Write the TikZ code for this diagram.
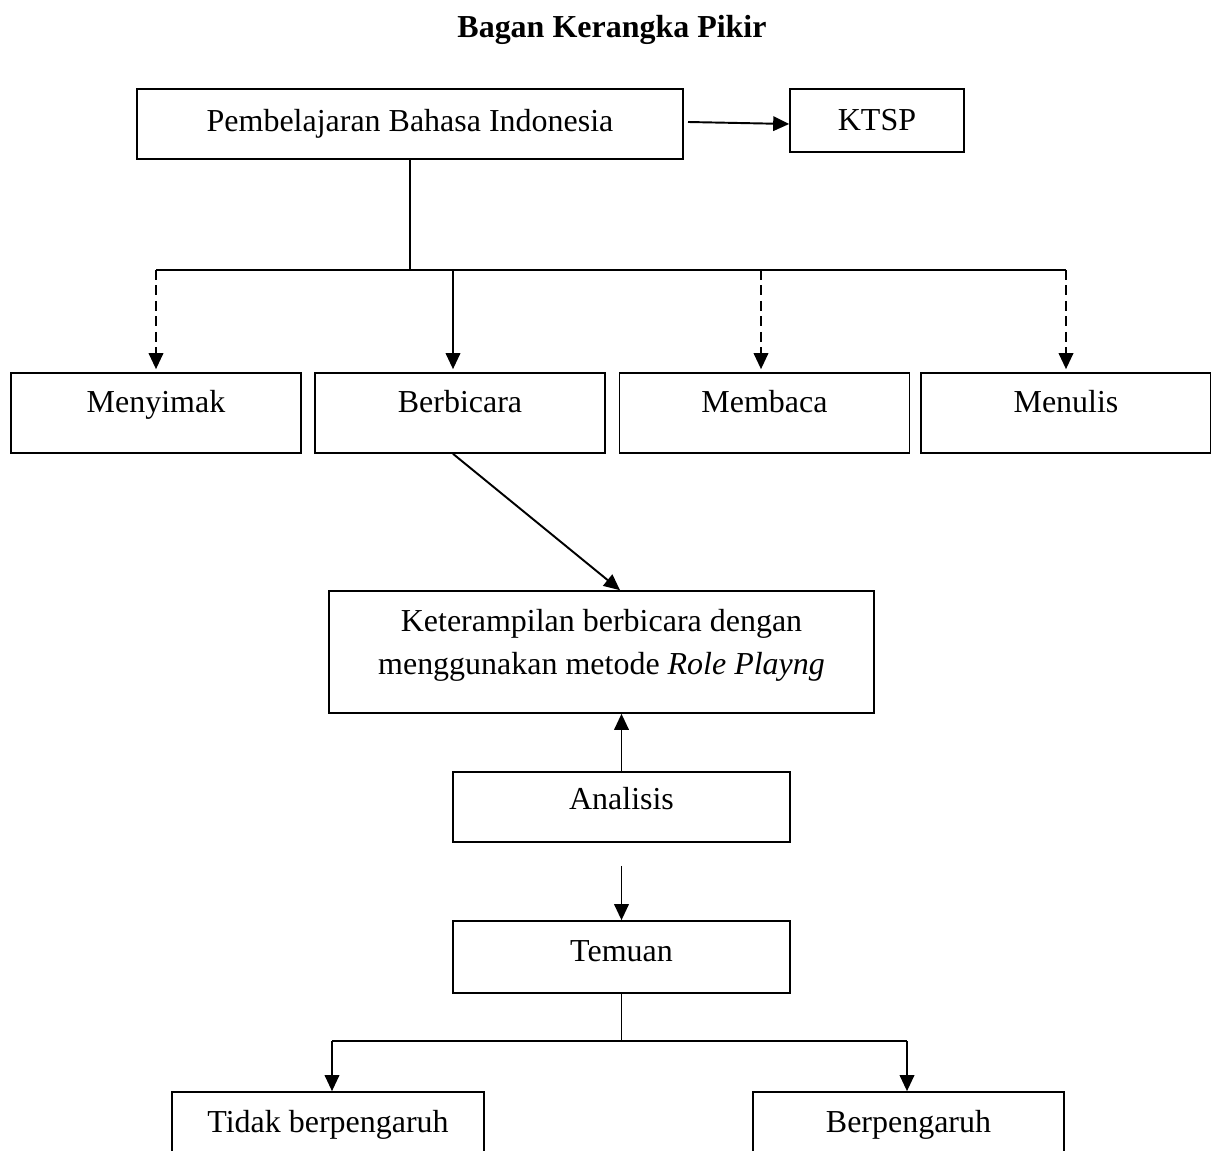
\documentclass[tikz,border=0pt]{standalone}
\usepackage{fontspec}
\setmainfont{Liberation Serif}
\usetikzlibrary{arrows.meta}
\tikzset{
  kotak/.style={draw, line width=0.95pt, inner xsep=0pt, inner ysep=0pt},
  panah/.style={line width=1.1pt, -{Triangle[length=0.32cm,width=0.29cm]}},
  putus/.style={panah, dash pattern=on 0.2cm off 0.11cm},
  tipis/.style={line width=0.6pt},
  tebal/.style={line width=1.2pt}
}
\begin{document}
\begin{tikzpicture}[x=0.02cm, y=-0.02cm, font=\fontsize{18.2pt}{24.5pt}\selectfont]
\useasboundingbox (0,0) rectangle (1211,1151);
\clip (0,0) rectangle (1211,1151);
% judul
\node[anchor=base, font=\fontsize{18.2pt}{24.5pt}\selectfont\bfseries] (judul) at (612,38) {Bagan Kerangka Pikir};
% baris atas
\node[kotak, minimum width=10.92cm, text height=0.86cm, text depth=0.54cm] (pbi) at (410,124) {Pembelajaran Bahasa Indonesia};
\node[kotak, minimum width=3.48cm, text height=0.84cm, text depth=0.42cm] (ktsp) at (877,120.5) {KTSP};
\coordinate (awal) at (688,122);
\draw[panah] (awal) -- ([yshift=-0.07cm]ktsp.west);
% empat keterampilan
\node[kotak, minimum width=5.8cm, text height=0.8cm, text depth=0.8cm] (menyimak) at (156,413) {Menyimak};
\node[kotak, minimum width=5.8cm, text height=0.8cm, text depth=0.8cm] (berbicara) at (460,413) {Berbicara};
\node[kotak, minimum width=5.8cm, text height=0.8cm, text depth=0.8cm] (membaca) at (764.5,413) {Membaca};
\node[kotak, minimum width=5.8cm, text height=0.8cm, text depth=0.8cm] (menulis) at (1066,413) {Menulis};
\coordinate (cabang) at (410,270);
\draw[tipis] (pbi.south) -- (cabang);
\draw[tebal] (menyimak.north |- cabang) -- (menulis.north |- cabang);
\draw[putus] (menyimak.north |- cabang) -- ([yshift=0.06cm]menyimak.north);
\draw[panah] ([xshift=-0.14cm]berbicara.north |- cabang) -- ([xshift=-0.14cm, yshift=0.06cm]berbicara.north);
\draw[putus] ([xshift=-0.07cm]membaca.north |- cabang) -- ([xshift=-0.07cm, yshift=0.06cm]membaca.north);
\draw[putus] (menulis.north |- cabang) -- ([yshift=0.06cm]menulis.north);
% keterampilan berbicara
\node[kotak, minimum width=10.9cm, text height=1.68cm, text depth=0.76cm, align=center] (ktr) at (601.5,652) {Keterampilan berbicara dengan\\menggunakan metode \textit{Role Playng}};
\draw[panah] ([xshift=-0.14cm]berbicara.south) -- ([xshift=0.37cm]ktr.north);
% analisis dan temuan
\node[kotak, minimum width=6.74cm, text height=0.76cm, text depth=0.64cm] (analisis) at (621.5,807) {Analisis};
\node[kotak, minimum width=6.74cm, text height=0.82cm, text depth=0.62cm] (temuan) at (621.5,957) {Temuan};
\draw[panah] (analisis.north) -- (analisis.north |- ktr.south);
\draw[panah] ([yshift=-0.46cm]analisis.south) -- (temuan.north);
% hasil
\node[kotak, minimum width=6.24cm, text height=0.8cm, text depth=0.8cm] (tidak) at (328,1132) {Tidak berpengaruh};
\node[kotak, minimum width=6.22cm, text height=0.8cm, text depth=0.8cm] (pengaruh) at (908.5,1132) {Berpengaruh};
\coordinate (cabang2) at (621.5,1041);
\draw[tipis] (temuan.south) -- (cabang2);
\draw[tebal] ([xshift=0.08cm]tidak.north |- cabang2) -- ([xshift=-0.03cm]pengaruh.north |- cabang2);
\draw[panah] ([xshift=0.08cm]tidak.north |- cabang2) -- ([xshift=0.08cm]tidak.north);
\draw[panah] ([xshift=-0.03cm]pengaruh.north |- cabang2) -- ([xshift=-0.03cm]pengaruh.north);
\end{tikzpicture}
\end{document}
